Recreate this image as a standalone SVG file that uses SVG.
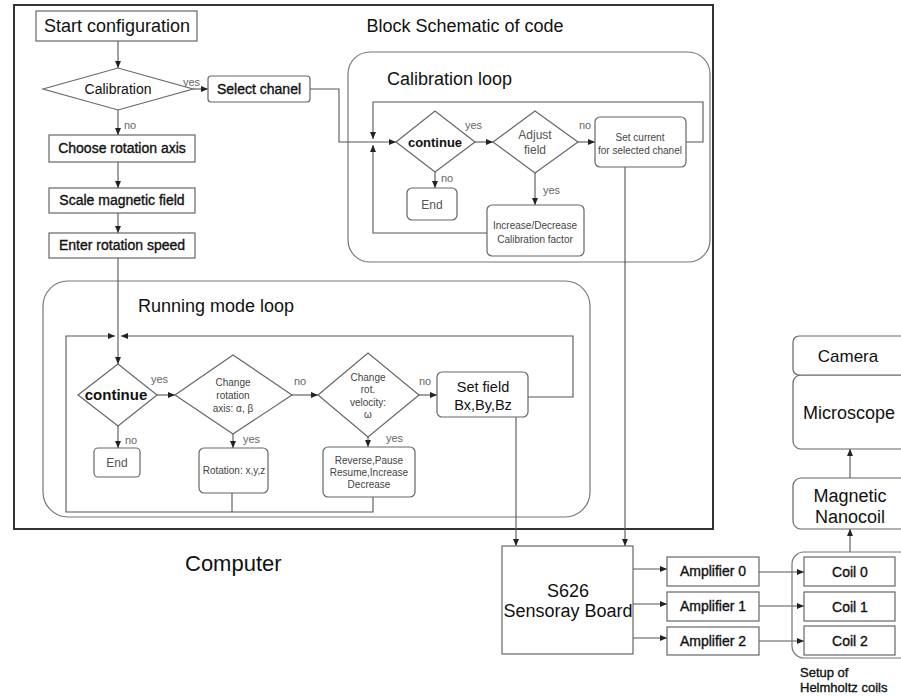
<svg xmlns="http://www.w3.org/2000/svg" width="901" height="697" viewBox="0 0 901 697">
<defs>
<marker id="ah" markerUnits="userSpaceOnUse" markerWidth="8" markerHeight="6" refX="7" refY="3" orient="auto">
<path d="M0,0 L7,3 L0,6 z" fill="#222"/>
</marker>
<style>
.box{fill:#fff;stroke:#666;stroke-width:1.2}
.grp{fill:none;stroke:#777;stroke-width:1.2}
.frame{fill:none;stroke:#333;stroke-width:2}
.ln{fill:none;stroke:#555;stroke-width:1.1}
.ar{fill:none;stroke:#555;stroke-width:1.1;marker-end:url(#ah)}
text{font-family:"Liberation Sans",Arial,sans-serif;fill:#111}
.t18{font-size:18px}
.md{font-size:14px;stroke:#111;stroke-width:0.35}
.t14{font-size:14px}
.sm{font-size:10px;fill:#444}
.lb{font-size:11px;fill:#666}
.gt{font-size:12px;fill:#555}
.c{text-anchor:middle}
</style>
</defs>
<rect width="901" height="697" fill="#fff"/>

<g id="computer">
<rect class="frame" x="14" y="5" width="699" height="524"/>
<text class="c" x="465" y="32" style="font-size:18px">Block Schematic of code</text>
<text x="185" y="571" style="font-size:22px">Computer</text>
</g>

<g id="calibration-loop">
<rect class="grp" x="348" y="52" width="362" height="210" rx="22"/>
<text class="t18" x="387" y="85">Calibration loop</text>
</g>
<g id="running-loop">
<rect class="grp" x="43" y="281" width="547" height="236" rx="25"/>
<text class="t18" x="138" y="312">Running mode loop</text>
</g>

<g id="connectors">
<path class="ar" d="M118,41 V68"/>
<path class="ar" d="M193,89 H208"/>
<path class="ar" d="M118,110 V135"/>
<path class="ar" d="M118,162 V188"/>
<path class="ar" d="M118,213 V233"/>
<path class="ln" d="M118,258 V336"/>
<path class="ar" d="M118,336 V364"/>
<path class="ar" d="M528,397 H573 V336 H121"/>
<path class="ar" d="M373,497 V512 H66 V336 H115"/>
<path class="ln" d="M232,493 V512"/>
<path class="ar" d="M157,395 H175"/>
<path class="ar" d="M292,395 H318"/>
<path class="ar" d="M419,395 H437"/>
<path class="ar" d="M118,426 V448"/>
<path class="ar" d="M233,434 V448"/>
<path class="ar" d="M368,437 V447"/>
<path class="ar" d="M516,417 V546"/>
<path class="ar" d="M310,89 H339 V142 H396"/>
<path class="ar" d="M686,142 H703 V102 H373 V139"/>
<path class="ar" d="M487,233 H373 V145"/>
<path class="ar" d="M475,142 H493"/>
<path class="ar" d="M578,142 H595"/>
<path class="ar" d="M435,172 V188"/>
<path class="ar" d="M535,173 V205"/>
<path class="ar" d="M625,167 V546"/>
<path class="ar" d="M633,569 H667"/>
<path class="ar" d="M633,604 H667"/>
<path class="ar" d="M633,638 H667"/>
<path class="ar" d="M759,572 H804"/>
<path class="ar" d="M759,606 H804"/>
<path class="ar" d="M759,641 H804"/>
<path class="ar" d="M850,552 V529"/>
<path class="ar" d="M850,478 V449"/>
<text class="lb" x="183" y="86">yes</text>
<text class="lb" x="124" y="129">no</text>
<text class="lb" x="465" y="129">yes</text>
<text class="lb" x="579" y="129">no</text>
<text class="lb" x="441" y="182">no</text>
<text class="lb" x="543" y="194">yes</text>
<text class="lb" x="151" y="383">yes</text>
<text class="lb" x="294" y="385">no</text>
<text class="lb" x="419" y="385">no</text>
<text class="lb" x="125" y="444">no</text>
<text class="lb" x="243" y="443">yes</text>
<text class="lb" x="386" y="442">yes</text>
</g>

<g id="start"><rect class="box" x="36" y="11" width="161" height="30"/><text class="t18 c" x="117" y="32">Start configuration</text></g>
<g id="calibration"><polygon class="box" points="43,89 118,68 193,89 118,110"/><text class="t14 c" x="118" y="94">Calibration</text></g>
<g id="select-chanel"><rect class="box" x="208" y="76" width="102" height="26" rx="3"/><text class="md c" x="259" y="94">Select chanel</text></g>
<g id="choose-axis"><rect class="box" x="49" y="135" width="146" height="27"/><text class="md c" x="122" y="153">Choose rotation axis</text></g>
<g id="scale-field"><rect class="box" x="49" y="188" width="146" height="25"/><text class="md c" x="122" y="205">Scale magnetic field</text></g>
<g id="enter-speed"><rect class="box" x="49" y="233" width="146" height="25"/><text class="md c" x="122" y="250">Enter rotation speed</text></g>

<g id="cal-continue"><polygon class="box" points="396,142 435,111 475,142 435,172"/><text class="c" x="435" y="147" style="font-size:13px;font-weight:bold">continue</text></g>
<g id="adjust-field"><polygon class="box" points="493,142 535,111 578,142 535,173"/><text class="gt c" x="535" y="139">Adjust</text><text class="gt c" x="535" y="154">field</text></g>
<g id="set-current"><rect class="box" x="595" y="117" width="91" height="50" rx="5"/><text class="sm c" x="640" y="141">Set current</text><text class="sm c" x="640" y="154">for selected chanel</text></g>
<g id="cal-end"><rect class="box" x="407" y="188" width="50" height="32" rx="5"/><text class="gt c" x="432" y="209">End</text></g>
<g id="cal-factor"><rect class="box" x="487" y="205" width="97" height="51" rx="5"/><text class="sm c" x="535" y="229">Increase/Decrease</text><text class="sm c" x="535" y="243">Calibration factor</text></g>

<g id="run-continue"><polygon class="box" points="78,395 118,364 157,395 118,426"/><text class="c" x="116" y="400" style="font-size:15px;font-weight:bold">continue</text></g>
<g id="change-axis"><polygon class="box" points="175,395 233,355 292,395 233,434"/><text class="sm c" x="233" y="386">Change</text><text class="sm c" x="233" y="399">rotation</text><text class="sm c" x="233" y="412">axis: α, β</text></g>
<g id="change-velocity"><polygon class="box" points="318,395 368,353 419,395 368,437"/><text class="sm c" x="368" y="381">Change</text><text class="sm c" x="368" y="393">rot.</text><text class="sm c" x="368" y="406">velocity:</text><text class="sm c" x="368" y="418">ω</text></g>
<g id="set-field"><rect class="box" x="437" y="372" width="91" height="45" rx="5"/><text class="c" x="483" y="392" style="font-size:14.5px">Set field</text><text class="c" x="483" y="410" style="font-size:14.5px">Bx,By,Bz</text></g>
<g id="run-end"><rect class="box" x="94" y="448" width="46" height="29" rx="4"/><text class="gt c" x="117" y="467">End</text></g>
<g id="rotation"><rect class="box" x="199" y="448" width="69" height="45" rx="5"/><text class="sm c" x="234" y="474">Rotation: x,y,z</text></g>
<g id="reverse"><rect class="box" x="323" y="447" width="92" height="50" rx="5"/><text class="sm c" x="369" y="464">Reverse,Pause</text><text class="sm c" x="369" y="476">Resume,Increase</text><text class="sm c" x="369" y="488">Decrease</text></g>

<g id="s626"><rect class="box" x="502" y="546" width="131" height="108"/><text class="t18 c" x="568" y="597">S626</text><text class="t18 c" x="568" y="617">Sensoray Board</text></g>
<g id="amp0"><rect class="box" x="667" y="557" width="92" height="29"/><text class="md c" x="713" y="576">Amplifier 0</text></g>
<g id="amp1"><rect class="box" x="667" y="592" width="92" height="29"/><text class="md c" x="713" y="611">Amplifier 1</text></g>
<g id="amp2"><rect class="box" x="667" y="627" width="92" height="28"/><text class="md c" x="713" y="646">Amplifier 2</text></g>
<g id="helmholtz"><rect class="grp" x="792" y="552" width="120" height="106" rx="12"/><text x="800" y="677" style="font-size:13px;stroke:#111;stroke-width:0.35">Setup of</text><text x="800" y="692" style="font-size:13px;stroke:#111;stroke-width:0.35">Helmholtz coils</text></g>
<g id="coil0"><rect class="box" x="804" y="557" width="91" height="29"/><text class="md c" x="850" y="577">Coil 0</text></g>
<g id="coil1"><rect class="box" x="804" y="592" width="91" height="29"/><text class="md c" x="850" y="612">Coil 1</text></g>
<g id="coil2"><rect class="box" x="804" y="626" width="91" height="29"/><text class="md c" x="850" y="646">Coil 2</text></g>
<g id="nanocoil"><rect class="box" x="793" y="478" width="120" height="51" rx="8"/><text class="t18 c" x="850" y="502">Magnetic</text><text class="t18 c" x="850" y="523">Nanocoil</text></g>
<g id="microscope"><rect class="box" x="793" y="375" width="120" height="74" rx="8"/><text class="t18 c" x="849" y="419">Microscope</text></g>
<g id="camera"><rect class="box" x="793" y="336" width="120" height="39" rx="6"/><text class="c" x="848" y="362" style="font-size:17px">Camera</text></g>
</svg>
